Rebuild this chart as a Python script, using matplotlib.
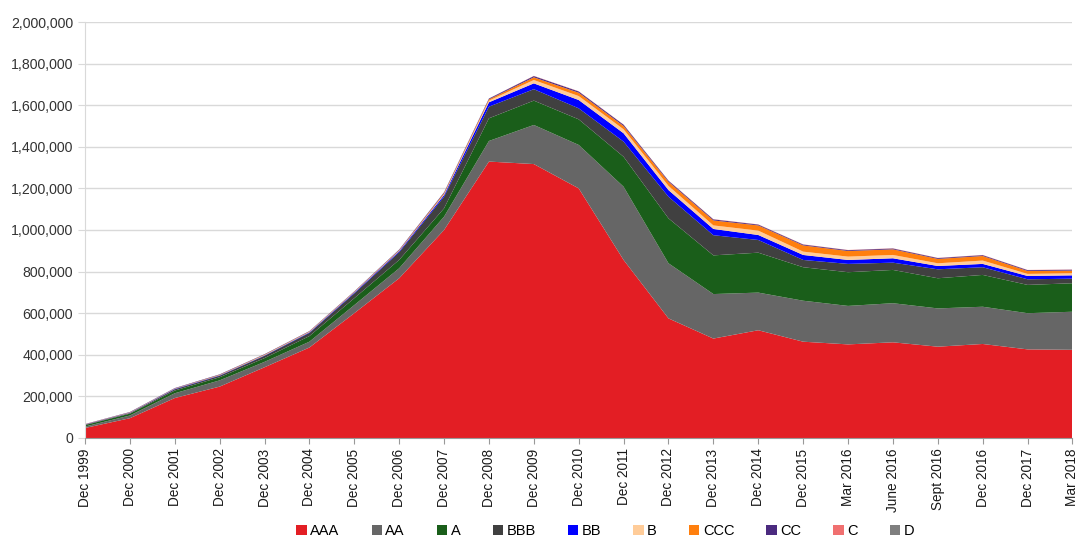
import matplotlib
matplotlib.use('Agg')
import matplotlib.pyplot as plt
from matplotlib.ticker import FuncFormatter, MultipleLocator
from matplotlib.patches import Patch

plt.rcParams['font.family'] = ['Liberation Sans', 'DejaVu Sans']

### DATA ###
periods = ['Dec 1999', 'Dec 2000', 'Dec 2001', 'Dec 2002', 'Dec 2003', 'Dec 2004',
           'Dec 2005', 'Dec 2006', 'Dec 2007', 'Dec 2008', 'Dec 2009', 'Dec 2010',
           'Dec 2011', 'Dec 2012', 'Dec 2013', 'Dec 2014', 'Dec 2015', 'Mar 2016',
           'June 2016', 'Sept 2016', 'Dec 2016', 'Dec 2017', 'Mar 2018']

ratings = ['AAA', 'AA', 'A', 'BBB', 'BB', 'B', 'CCC', 'CC', 'C', 'D']

aaa = [48000, 95000, 192000, 247000, 340000, 435000, 600000, 768000, 1000000, 1329000,
       1317000, 1200000, 856000, 575000, 478000, 518000, 463000, 450000, 460000, 439000,
       452000, 426000, 424000]
aa = [7000, 13000, 23000, 30000, 26000, 28000, 39000, 48000, 64000, 99000, 188000, 209000,
      352000, 265000, 214000, 181000, 197000, 185000, 188000, 184000, 179000, 174000, 183000]
a = [7000, 9000, 13000, 15000, 18000, 27000, 33000, 40000, 40000, 109000, 117000, 123000,
     144000, 216000, 186000, 192000, 161000, 162000, 160000, 145000, 153000, 136000, 137000]
bbb = [2000, 3000, 6000, 7000, 11000, 15000, 23000, 37000, 56000, 56000, 55000, 53000,
       73000, 104000, 97000, 61000, 35000, 40000, 35000, 43000, 37000, 27000, 22000]
bb = [1000, 1000, 2000, 2000, 2000, 3000, 4000, 5000, 8000, 21000, 28000, 40000,
      40000, 32000, 30000, 24000, 24000, 19000, 21000, 16000, 16000, 16000, 16000]
b = [0, 1000, 1000, 1000, 2000, 2000, 2000, 2000, 4000, 8000, 16000, 19000,
     19000, 20000, 17000, 21000, 16000, 16000, 16000, 13000, 16000, 10000, 10000]
ccc = [1000, 1000, 1000, 2000, 2000, 2000, 2000, 3000, 5000, 6000, 13000, 16000,
       16000, 20000, 24000, 25000, 30000, 27000, 27000, 21000, 22000, 14000, 13000]
cc = [1000, 2000, 2000, 2000, 2000, 2000, 2000, 3000, 4000, 4000, 6000, 6000,
      6000, 5000, 5000, 4000, 4000, 4000, 4000, 4000, 4000, 4000, 4000]
c = [0, 0, 0, 0, 0, 0, 0, 0, 500, 500, 1000, 1000,
     1000, 1000, 1000, 1000, 1000, 1000, 1000, 1000, 1000, 1000, 1000]
d = [0, 0, 0, 0, 0, 0, 0, 0, 0, 0, 0, 0,
     0, 0, 0, 0, 0, 0, 0, 0, 0, 0, 0]

colors = ['#E31E24', '#666666', '#1A5E1A', '#404040', '#0000FF',
          '#FFCC99', '#FF7F0E', '#4B2A7F', '#F07070', '#7F7F7F']

### PLOT ###
fig = plt.figure(figsize=(10.81, 5.42), dpi=100)
ax = fig.add_axes([0.0786, 0.1919, 0.9135, 0.7675])

x = list(range(len(periods)))
ax.stackplot(x, aaa, aa, a, bbb, bb, b, ccc, cc, c, d, colors=colors, linewidth=0)

ax.set_xlim(0, len(periods) - 1)
ax.set_ylim(0, 2000000)
ax.yaxis.set_major_locator(MultipleLocator(200000))
ax.yaxis.set_major_formatter(FuncFormatter(lambda v, p: f'{int(v):,}'))
ax.grid(axis='y', color='#D9D9D9', linewidth=1)
ax.set_axisbelow(True)

ax.set_xticks(x)
ax.set_xticklabels(periods, rotation=90, fontsize=9.8, color='#1a1a1a')
ax.tick_params(axis='y', labelsize=10.2, labelcolor='#333333', length=5, color='#D9D9D9')
ax.tick_params(axis='x', length=4, color='#999999')

for s in ['top', 'right']:
    ax.spines[s].set_visible(False)
ax.spines['left'].set_color('#D9D9D9')
ax.spines['bottom'].set_color('#999999')

## Legend
handles = [Patch(facecolor=col, edgecolor='none') for col in colors]
fig.legend(handles, ratings, loc='lower center', bbox_to_anchor=(0.56, -0.017), ncol=10,
           frameon=False, fontsize=10.5, handlelength=0.7, handleheight=0.7,
           handletextpad=0.25, columnspacing=2.2)

fig.savefig('out.png', dpi=100)
